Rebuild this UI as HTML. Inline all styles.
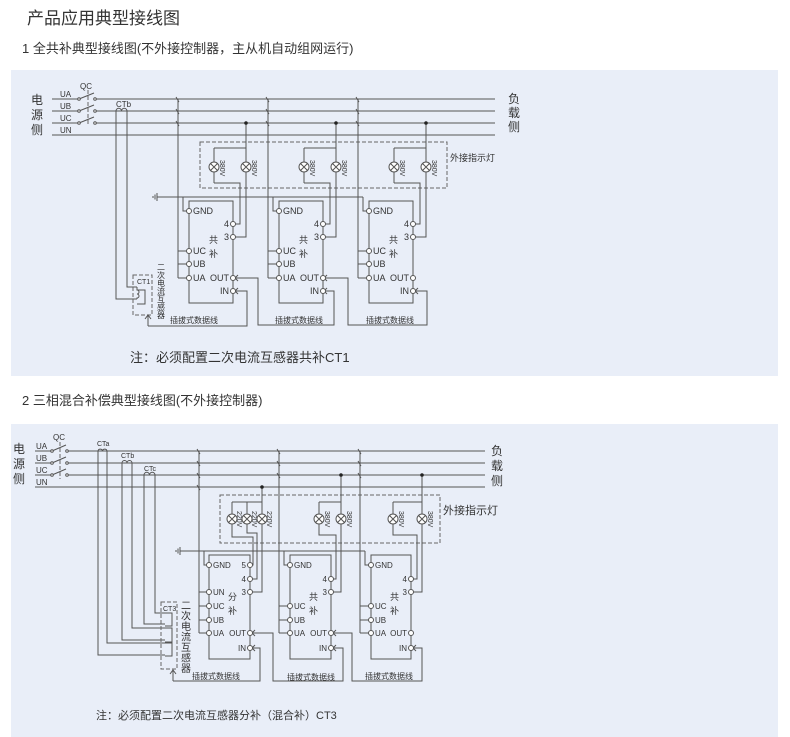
<!DOCTYPE html>
<html><head><meta charset="utf-8"><style>
body{margin:0;background:#fff;}
svg{display:block;font-family:"Liberation Sans","Noto Sans CJK SC",sans-serif;}
.w{stroke:#555;stroke-width:1;fill:none}
.d{stroke:#666;stroke-width:1;fill:none;stroke-dasharray:4 2}
.c{stroke:#555;stroke-width:1;fill:#fff}
text{fill:#333}
.s{font-size:8px}
.m{font-size:9px}
</style></head><body>
<svg width="790" height="737" viewBox="0 0 790 737" xmlns="http://www.w3.org/2000/svg">
<defs>
<g id="lamp"><circle r="5" class="c"/><path class="w" d="M-3.5 -3.5L3.5 3.5M-3.5 3.5L3.5 -3.5"/></g>
</defs>
<text x="27" y="24" style="font-size:17px">产品应用典型接线图</text>
<text x="22" y="53" style="font-size:13px">1 全共补典型接线图(不外接控制器，主从机自动组网运行)</text>
<rect x="11" y="70" width="767" height="306" fill="#e9eef8"/>
<text x="22" y="405" style="font-size:13px">2 三相混合补偿典型接线图(不外接控制器)</text>
<rect x="11" y="424" width="767" height="313" fill="#e9eef8"/>

<!-- PANEL 1 -->
<g style="font-size:12px"><text x="31" y="104">电</text><text x="31" y="119">源</text><text x="31" y="134">侧</text>
<text x="508" y="103">负</text><text x="508" y="117">载</text><text x="508" y="131">侧</text></g>
<text x="80" y="89" class="s">QC</text>
<g class="s"><text x="60" y="97">UA</text><text x="60" y="109">UB</text><text x="60" y="121">UC</text><text x="60" y="133">UN</text></g>
<path class="w" d="M52 99H79M95 99H495M52 111H79M95 111H495M52 123H79M95 123H495M52 135H495"/>
<path class="w" d="M79 99L94 93M79 111L94 105M79 123L94 117"/>
<path class="d" d="M88 90V126"/>
<g class="c"><circle cx="79" cy="99" r="1.3"/><circle cx="95" cy="99" r="1.3"/><circle cx="79" cy="111" r="1.3"/><circle cx="95" cy="111" r="1.3"/><circle cx="79" cy="123" r="1.3"/><circle cx="95" cy="123" r="1.3"/></g>
<text x="116" y="107" class="s">CTb</text>
<path class="w" d="M116 111a2.7 2.7 0 0 1 5.5 0a2.7 2.7 0 0 1 5.5 0M116 111V299H137M127 111V287H137"/>
<rect x="133" y="275" width="19" height="40" class="d"/>
<text x="137" y="284" style="font-size:7px">CT1</text>
<path class="w" d="M137 287v3a2 2 0 0 1 0 4a2 2 0 0 1 0 4v1M137 290H145V304H137"/>
<path class="w" d="M148 326V316M145 319L148 315L151 319M148 326H247V291H236M238 288L235 291L238 294"/>
<g style="font-size:8px"><text x="157" y="270">二</text><text x="157" y="278">次</text><text x="157" y="286">电</text><text x="157" y="294">流</text><text x="157" y="302">互</text><text x="157" y="310">感</text><text x="157" y="318">器</text></g>
<!-- ground -->
<path class="w" d="M157 197H363M157 193V201M155 194.5V199.5M153 196V198"/>
<rect x="200" y="142" width="247" height="46" class="d"/>
<text x="450" y="161" class="m">外接指示灯</text>
<!-- data lines -->
<path class="w" d="M236 278H258V325H334V291H325M327 288L324 291L327 294M325 278H348V325H427V291H416M418 288L415 291L418 294M238 275L235 278L238 281M327 275L324 278L327 281"/>
<g class="s"><text x="170" y="323">插拔式数据线</text><text x="275" y="323">插拔式数据线</text><text x="366" y="323">插拔式数据线</text></g>
<text x="130" y="362" style="font-size:13px">注：必须配置二次电流互感器共补CT1</text>

<!-- panel1 modules -->
<g transform="translate(189,0)">
<path class="w" d="M-11 99V278M-11 251H-2M-11 264H-2M-11 278H-2M-13 97L-10 102M-13 109L-10 114M-13 121L-10 126M-6 197V211H-2"/>
<rect x="0" y="201" width="44" height="102" class="w"/>
<path class="w" d="M57 123V237H46M25 148V162M25 172V183M25 148H57M25 183H51V224H46"/>
<circle cx="57" cy="123" r="1.8" fill="#222"/>
<use href="#lamp" x="25" y="167"/><use href="#lamp" x="57" y="167"/>
<text transform="translate(31,160) rotate(90)" style="font-size:7px">380V</text>
<text transform="translate(63,160) rotate(90)" style="font-size:7px">380V</text>
<g class="c"><circle cx="0" cy="211" r="2.5"/><circle cx="0" cy="251" r="2.5"/><circle cx="0" cy="264" r="2.5"/><circle cx="0" cy="278" r="2.5"/><circle cx="44" cy="224" r="2.5"/><circle cx="44" cy="237" r="2.5"/><circle cx="44" cy="278" r="2.5"/><circle cx="44" cy="291" r="2.5"/></g>
<g class="m"><text x="4" y="214">GND</text><text x="4" y="254">UC</text><text x="4" y="267">UB</text><text x="4" y="281">UA</text><text x="40" y="227" text-anchor="end">4</text><text x="40" y="240" text-anchor="end">3</text><text x="40" y="281" text-anchor="end">OUT</text><text x="40" y="294" text-anchor="end">IN</text><text x="20" y="243">共</text><text x="20" y="257">补</text></g>
</g>
<g transform="translate(279,0)">
<path class="w" d="M-11 99V278M-11 251H-2M-11 264H-2M-11 278H-2M-13 97L-10 102M-13 109L-10 114M-13 121L-10 126M-6 197V211H-2"/>
<rect x="0" y="201" width="44" height="102" class="w"/>
<path class="w" d="M57 123V237H46M25 148V162M25 172V183M25 148H57M25 183H51V224H46"/>
<circle cx="57" cy="123" r="1.8" fill="#222"/>
<use href="#lamp" x="25" y="167"/><use href="#lamp" x="57" y="167"/>
<text transform="translate(31,160) rotate(90)" style="font-size:7px">380V</text>
<text transform="translate(63,160) rotate(90)" style="font-size:7px">380V</text>
<g class="c"><circle cx="0" cy="211" r="2.5"/><circle cx="0" cy="251" r="2.5"/><circle cx="0" cy="264" r="2.5"/><circle cx="0" cy="278" r="2.5"/><circle cx="44" cy="224" r="2.5"/><circle cx="44" cy="237" r="2.5"/><circle cx="44" cy="278" r="2.5"/><circle cx="44" cy="291" r="2.5"/></g>
<g class="m"><text x="4" y="214">GND</text><text x="4" y="254">UC</text><text x="4" y="267">UB</text><text x="4" y="281">UA</text><text x="40" y="227" text-anchor="end">4</text><text x="40" y="240" text-anchor="end">3</text><text x="40" y="281" text-anchor="end">OUT</text><text x="40" y="294" text-anchor="end">IN</text><text x="20" y="243">共</text><text x="20" y="257">补</text></g>
</g>
<g transform="translate(369,0)">
<path class="w" d="M-11 99V278M-11 251H-2M-11 264H-2M-11 278H-2M-13 97L-10 102M-13 109L-10 114M-13 121L-10 126M-6 197V211H-2"/>
<rect x="0" y="201" width="44" height="102" class="w"/>
<path class="w" d="M57 123V237H46M25 148V162M25 172V183M25 148H57M25 183H51V224H46"/>
<circle cx="57" cy="123" r="1.8" fill="#222"/>
<use href="#lamp" x="25" y="167"/><use href="#lamp" x="57" y="167"/>
<text transform="translate(31,160) rotate(90)" style="font-size:7px">380V</text>
<text transform="translate(63,160) rotate(90)" style="font-size:7px">380V</text>
<g class="c"><circle cx="0" cy="211" r="2.5"/><circle cx="0" cy="251" r="2.5"/><circle cx="0" cy="264" r="2.5"/><circle cx="0" cy="278" r="2.5"/><circle cx="44" cy="224" r="2.5"/><circle cx="44" cy="237" r="2.5"/><circle cx="44" cy="278" r="2.5"/><circle cx="44" cy="291" r="2.5"/></g>
<g class="m"><text x="4" y="214">GND</text><text x="4" y="254">UC</text><text x="4" y="267">UB</text><text x="4" y="281">UA</text><text x="40" y="227" text-anchor="end">4</text><text x="40" y="240" text-anchor="end">3</text><text x="40" y="281" text-anchor="end">OUT</text><text x="40" y="294" text-anchor="end">IN</text><text x="20" y="243">共</text><text x="20" y="257">补</text></g>
</g>

<!-- PANEL 2 -->
<g style="font-size:12px"><text x="13" y="453">电</text><text x="13" y="468">源</text><text x="13" y="483">侧</text>
<text x="491" y="455">负</text><text x="491" y="470">载</text><text x="491" y="485">侧</text></g>
<text x="53" y="440" class="s">QC</text>
<g class="s"><text x="36" y="449">UA</text><text x="36" y="461">UB</text><text x="36" y="473">UC</text><text x="36" y="485">UN</text></g>
<path class="w" d="M35 451H52M67 451H485M35 463H52M67 463H485M35 475H52M67 475H485M35 487H485"/>
<path class="w" d="M52 451L66 445M52 463L66 457M52 475L66 469"/>
<path class="d" d="M60 442V479"/>
<g class="c"><circle cx="52" cy="451" r="1.3"/><circle cx="67" cy="451" r="1.3"/><circle cx="52" cy="463" r="1.3"/><circle cx="67" cy="463" r="1.3"/><circle cx="52" cy="475" r="1.3"/><circle cx="67" cy="475" r="1.3"/></g>
<g style="font-size:7px"><text x="97" y="446">CTa</text><text x="121" y="458">CTb</text><text x="144" y="471">CTc</text></g>
<path class="w" d="M98 451a2.3 2.3 0 0 1 4.5 0a2.3 2.3 0 0 1 4.5 0M122 463a2.5 2.5 0 0 1 5 0a2.5 2.5 0 0 1 5 0M144 475a2.7 2.7 0 0 1 5.5 0a2.7 2.7 0 0 1 5.5 0"/>
<path class="w" d="M98 451V655H165M107 451V643H165M122 463V640H165M132 463V628H165M144 475V624H165M155 475V613H165"/>
<rect x="161" y="602" width="16" height="67" class="d"/>
<text x="163" y="611" style="font-size:7px">CT3</text>
<path class="w" d="M165 613H172V626H165M165 628H172V642H165M165 643H172V656H165"/>
<path class="w" d="M173 681V671M170 674L173 670L176 674M173 681H260V648H253M255 645L252 648L255 651"/>
<g style="font-size:10px"><text x="181" y="609">二</text><text x="181" y="619.5">次</text><text x="181" y="630">电</text><text x="181" y="640.5">流</text><text x="181" y="651">互</text><text x="181" y="661.5">感</text><text x="181" y="672">器</text></g>
<path class="w" d="M180 551H365M180 547V555M178 548.5V553.5M176 550V552"/>
<rect x="220" y="495" width="220" height="48" class="d"/>
<text x="443" y="514" style="font-size:11px">外接指示灯</text>
<path class="w" d="M253 633H273V681H343V648H334M336 645L333 648L336 651M334 633H352V681H422V648H414M416 645L413 648L416 651M255 630L252 633L255 636M336 630L333 633L336 636"/>
<g class="s"><text x="192" y="679">插拔式数据线</text><text x="287" y="680">插拔式数据线</text><text x="365" y="679">插拔式数据线</text></g>
<text x="96" y="719" style="font-size:11px">注：必须配置二次电流互感器分补（混合补）CT3</text>

<!-- p2 module1 -->
<g transform="translate(209,0)">
<path class="w" d="M-10 451V633M-10 592H-2M-10 606H-2M-10 620H-2M-10 633H-2M-12 449L-9 454M-12 461L-9 466M-12 473L-9 478M-12 485L-9 490M-5 551V565H-2"/>
<rect x="0" y="555" width="41" height="104" class="w"/>
<path class="w" d="M23 502H53M23 502V514M38 502V514M23 524V537H44V565H43M38 524V533H48V579H43M53 487V592H43"/>
<circle cx="53" cy="487" r="1.8" fill="#222"/>
<use href="#lamp" x="23" y="519"/><use href="#lamp" x="38" y="519"/><use href="#lamp" x="53" y="519"/>
<g style="font-size:7px"><text transform="translate(28,511) rotate(90)">220V</text><text transform="translate(43,511) rotate(90)">220V</text><text transform="translate(58,511) rotate(90)">220V</text></g>
<g class="c"><circle cx="0" cy="565" r="2.5"/><circle cx="0" cy="592" r="2.5"/><circle cx="0" cy="606" r="2.5"/><circle cx="0" cy="620" r="2.5"/><circle cx="0" cy="633" r="2.5"/><circle cx="41" cy="565" r="2.5"/><circle cx="41" cy="579" r="2.5"/><circle cx="41" cy="592" r="2.5"/><circle cx="41" cy="633" r="2.5"/><circle cx="41" cy="648" r="2.5"/></g>
<g class="s"><text x="4" y="568">GND</text><text x="4" y="595">UN</text><text x="4" y="609">UC</text><text x="4" y="623">UB</text><text x="4" y="636">UA</text><text x="37" y="568" text-anchor="end">5</text><text x="37" y="582" text-anchor="end">4</text><text x="37" y="595" text-anchor="end">3</text><text x="37" y="636" text-anchor="end">OUT</text><text x="37" y="651" text-anchor="end">IN</text></g>
<g class="m"><text x="19" y="600">分</text><text x="19" y="614">补</text></g>
</g>
<g transform="translate(290,0)">
<path class="w" d="M-11 451V633M-11 606H-2M-11 620H-2M-11 633H-2M-13 449L-10 454M-13 461L-10 466M-13 473L-10 478M-6 551V565H-2"/>
<rect x="0" y="555" width="41" height="104" class="w"/>
<path class="w" d="M51 475V592H43M29 502H51M29 502V514M29 524V535H46V579H43"/>
<circle cx="51" cy="475" r="1.8" fill="#222"/>
<use href="#lamp" x="29" y="519"/><use href="#lamp" x="51" y="519"/>
<g style="font-size:7px"><text transform="translate(35,511) rotate(90)">380V</text><text transform="translate(57,511) rotate(90)">380V</text></g>
<g class="c"><circle cx="0" cy="565" r="2.5"/><circle cx="0" cy="606" r="2.5"/><circle cx="0" cy="620" r="2.5"/><circle cx="0" cy="633" r="2.5"/><circle cx="41" cy="579" r="2.5"/><circle cx="41" cy="592" r="2.5"/><circle cx="41" cy="633" r="2.5"/><circle cx="41" cy="648" r="2.5"/></g>
<g class="s"><text x="4" y="568">GND</text><text x="4" y="609">UC</text><text x="4" y="623">UB</text><text x="4" y="636">UA</text><text x="37" y="582" text-anchor="end">4</text><text x="37" y="595" text-anchor="end">3</text><text x="37" y="636" text-anchor="end">OUT</text><text x="37" y="651" text-anchor="end">IN</text></g>
<g class="m"><text x="19" y="600">共</text><text x="19" y="614">补</text></g>
</g>
<g transform="translate(371,0)">
<path class="w" d="M-11 451V633M-11 606H-2M-11 620H-2M-11 633H-2M-13 449L-10 454M-13 461L-10 466M-13 473L-10 478M-6 551V565H-2"/>
<rect x="0" y="555" width="40" height="104" class="w"/>
<path class="w" d="M51 475V592H42M22 502H51M22 502V514M22 524V535H46V579H42"/>
<circle cx="51" cy="475" r="1.8" fill="#222"/>
<use href="#lamp" x="22" y="519"/><use href="#lamp" x="51" y="519"/>
<g style="font-size:7px"><text transform="translate(28,511) rotate(90)">380V</text><text transform="translate(57,511) rotate(90)">380V</text></g>
<g class="c"><circle cx="0" cy="565" r="2.5"/><circle cx="0" cy="606" r="2.5"/><circle cx="0" cy="620" r="2.5"/><circle cx="0" cy="633" r="2.5"/><circle cx="40" cy="579" r="2.5"/><circle cx="40" cy="592" r="2.5"/><circle cx="40" cy="633" r="2.5"/><circle cx="40" cy="648" r="2.5"/></g>
<g class="s"><text x="4" y="568">GND</text><text x="4" y="609">UC</text><text x="4" y="623">UB</text><text x="4" y="636">UA</text><text x="36" y="582" text-anchor="end">4</text><text x="36" y="595" text-anchor="end">3</text><text x="36" y="636" text-anchor="end">OUT</text><text x="36" y="651" text-anchor="end">IN</text></g>
<g class="m"><text x="19" y="600">共</text><text x="19" y="614">补</text></g>
</g>
</svg>
</body></html>
